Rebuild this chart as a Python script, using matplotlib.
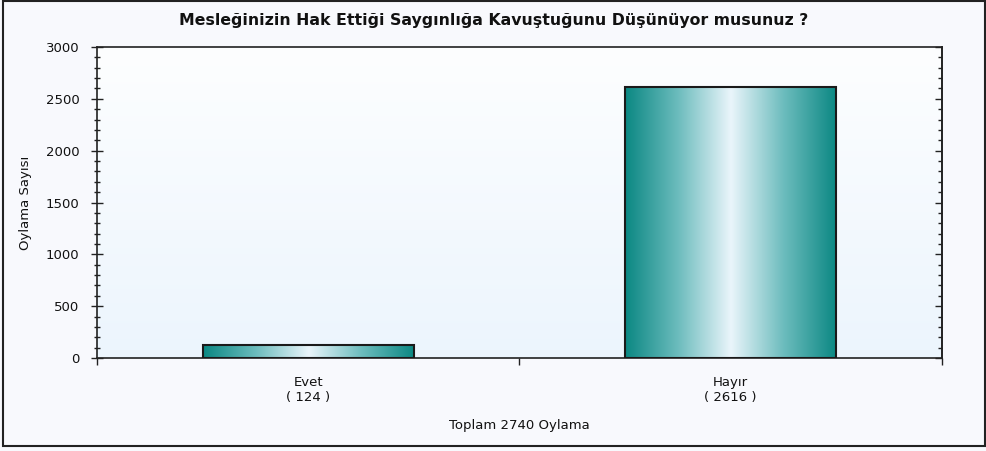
import numpy as np
import matplotlib
matplotlib.use("Agg")
import matplotlib.pyplot as plt
from matplotlib.colors import LinearSegmentedColormap
from matplotlib.ticker import MultipleLocator, NullFormatter
from matplotlib.patches import Rectangle

title = "Mesleğinizin Hak Ettiği Saygınlığa Kavuştuğunu Düşünüyor musunuz ?"
categories = ["Evet", "Hayır"]
votes = [124, 2616]
total_label = "Toplam 2740 Oylama"
ylabel = "Oylama Sayısı"

fig = plt.figure(figsize=(9.87, 4.51), dpi=100)
fig.patch.set_facecolor("#f8f9fd")
W, H = 987, 451
ax = fig.add_axes([97 / W, 1 - 358 / H, (942 - 97) / W, (358 - 47) / H])
ax.set_facecolor("none")

# outer border
fig.add_artist(Rectangle((3 / W, 1 - 446 / H), (985 - 3) / W, (446 - 1) / H,
                         transform=fig.transFigure, fill=False, lw=1.5, ec="#222222"))

# plot area gradient background
bg = np.linspace(0, 1, 256).reshape(-1, 1)
bg_cmap = LinearSegmentedColormap.from_list("bg", ["#ecf5fd", "#fdfeff"])
ax.imshow(bg, cmap=bg_cmap, origin="lower", aspect="auto",
          extent=[0, 1, 0, 1], transform=ax.transAxes, zorder=0)

x = np.arange(len(categories))
bars = ax.bar(x, votes, width=0.5, color="none", edgecolor="#1a1a1a", lw=1.5, zorder=3)

bar_cmap = LinearSegmentedColormap.from_list(
    "bar", [(0.0, "#0b8883"), (0.25, "#6cbcbd"), (0.5, "#eaf5fb"), (0.75, "#6cbcbd"), (1.0, "#0b8883")])
grad = np.linspace(0, 1, 256).reshape(1, -1)
for b in bars:
    x0, y0 = b.get_x(), b.get_y()
    ax.imshow(grad, cmap=bar_cmap, aspect="auto",
              extent=[x0, x0 + b.get_width(), y0, y0 + b.get_height()], zorder=2)

ax.set_xlim(-0.5, 1.5)
ax.set_ylim(0, 3000)

for s in ax.spines.values():
    s.set_color("#222222")
    s.set_linewidth(1.2)

ax.yaxis.set_major_locator(MultipleLocator(500))
ax.yaxis.set_minor_locator(MultipleLocator(100))
ax.tick_params(axis="y", which="major", direction="inout", length=9, width=1.0,
               labelsize=9.5, pad=8, color="#222222", labelcolor="#111111")
ax.tick_params(axis="y", which="minor", direction="inout", length=4, width=1.0,
               color="#222222")

# right-side inward ticks
sec = ax.secondary_yaxis("right")
sec.yaxis.set_major_locator(MultipleLocator(500))
sec.yaxis.set_minor_locator(MultipleLocator(100))
sec.yaxis.set_major_formatter(NullFormatter())
sec.tick_params(axis="y", which="major", direction="in", length=5, width=1.0, color="#222222")
sec.tick_params(axis="y", which="minor", direction="in", length=3, width=1.0, color="#222222")
sec.spines["right"].set_color("#222222")
sec.spines["right"].set_linewidth(1.2)

ax.set_xticks([-0.5, 0.5, 1.5])
ax.set_xticklabels([])
ax.tick_params(axis="x", which="major", direction="out", length=5, width=1.0, color="#222222")
for xi, (c, v) in enumerate(zip(categories, votes)):
    ax.text(xi, -0.057, f"{c}\n( {v} )", transform=ax.get_xaxis_transform(),
            ha="center", va="top", fontsize=9.5, linespacing=1.2, color="#111111")

ax.text(0.5, -0.197, total_label, transform=ax.transAxes, ha="center", va="top",
        fontsize=9.5, color="#111111")

ax.set_ylabel(ylabel, fontsize=9.5, labelpad=10, color="#111111")
fig.text(0.5, 1 - 20 / H, title, ha="center", va="center",
         fontsize=11.3, fontweight="bold", color="#111111")

fig.savefig("out.png", dpi=100, facecolor=fig.get_facecolor())
